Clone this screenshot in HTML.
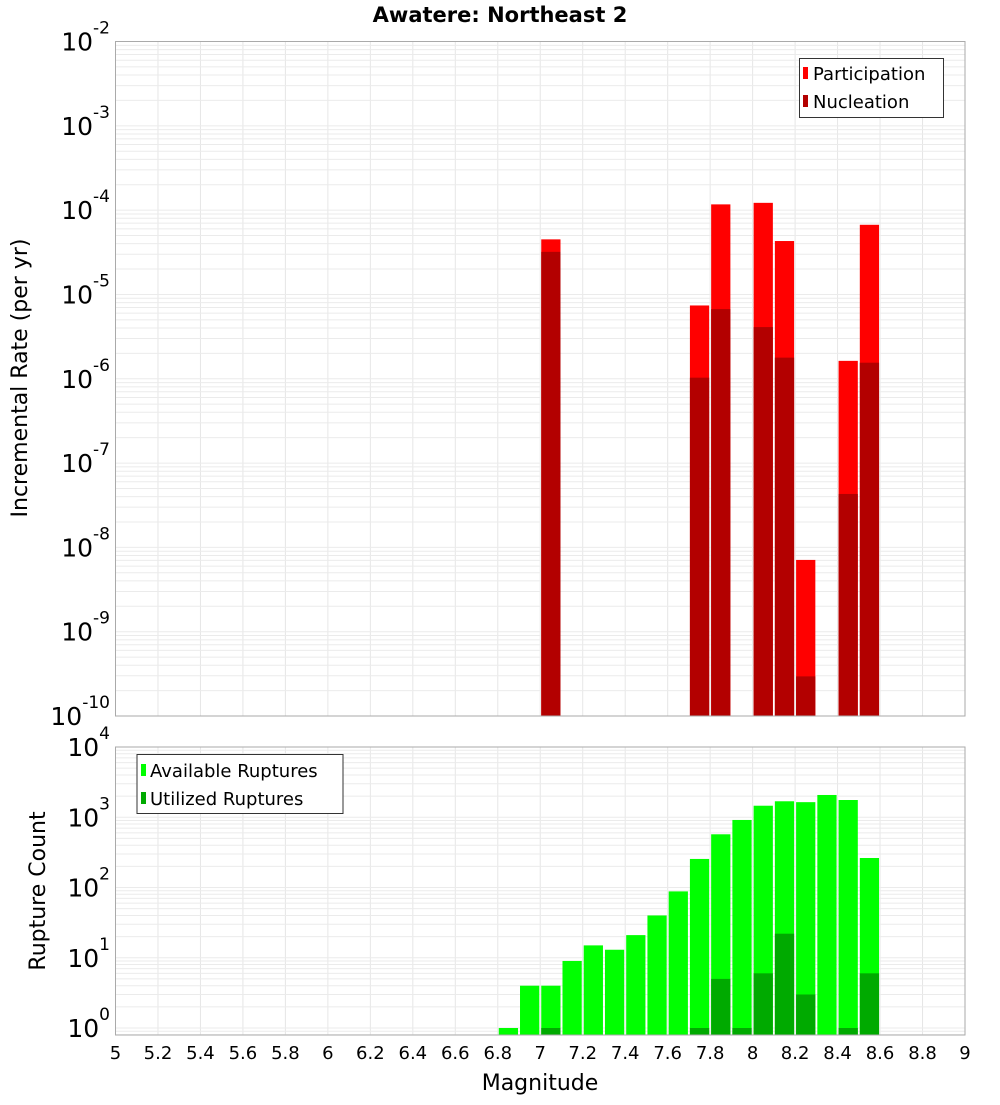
<!DOCTYPE html>
<html><head><meta charset="utf-8"><style>
body{margin:0;background:#fff;font-family:"Liberation Sans","DejaVu Sans",sans-serif}
svg text{font-family:"DejaVu Sans","Liberation Sans",sans-serif}
</style></head><body>
<svg id="chart" width="1000" height="1100" xmlns="http://www.w3.org/2000/svg"></svg>
<script>
const mags=[6.8,6.9,7.0,7.1,7.2,7.3,7.4,7.5,7.6,7.7,7.8,7.9,8.0,8.1,8.2,8.3,8.4,8.5];
const rateMags=[7.0,7.7,7.8,8.0,8.1,8.2,8.4,8.5];
const participation=[4.5e-5,7.4e-6,1.17e-4,1.22e-4,4.3e-5,7.1e-9,1.63e-6,6.7e-5];
const nucleation=[3.2e-5,1.03e-6,6.7e-6,4.1e-6,1.78e-6,2.95e-10,4.3e-8,1.55e-6];
const available=[1,4,4,9,15,13,21,40,88,255,572,915,1459,1688,1640,2075,1760,263];
const utilized=[0,0,1,0,0,0,0,0,0,1,5,1,6,22,3,0,1,6];
const xTicks=[5,5.2,5.4,5.6,5.8,6,6.2,6.4,6.6,6.8,7,7.2,7.4,7.6,7.8,8,8.2,8.4,8.6,8.8,9];
const topDecades=[-2,-3,-4,-5,-6,-7,-8,-9,-10];
const botDecades=[4,3,2,1,0];

const svg=document.getElementById('chart');
const NS='http://www.w3.org/2000/svg';
function mk(tag,attrs,parent){const e=document.createElementNS(NS,tag);for(const k in attrs)e.setAttribute(k,attrs[k]);(parent||svg).appendChild(e);return e;}
const L=115.5,R=965;
const x=m=>L+(m-5)/4*(R-L);
const T1=41.5,B1=716;
const yTop=v=>T1+(-2-Math.log10(v))*(B1-T1)/8;
const T2=747,Z2=1028,B2=1035;
const yBot=v=>Z2-Math.log10(v)*(Z2-T2)/4;

function grid(top,bot,decLo,decHi,yf){
  const g=mk('g',{});
  
  
  for(const t of xTicks){mk('line',{x1:x(t),x2:x(t),y1:top,y2:bot,stroke:'#e6e6e6','stroke-width':1},g);}
  for(let d=decLo;d<decHi;d++){for(let k=1;k<10;k++){const yy=yf(k*Math.pow(10,d));if(yy>=top&&yy<=bot)mk('line',{x1:L,x2:R,y1:yy,y2:yy,stroke:'#ebebeb','stroke-width':1},g);}}
  const yy=yf(Math.pow(10,decHi));mk('line',{x1:L,x2:R,y1:yy,y2:yy,stroke:'#ebebeb'},g);
}
grid(T1,B1,-10,-2,yTop);
grid(T2,B2,-1,4,yBot);

// top bars
rateMags.forEach((m,i)=>{
  const x0=x(m)+1,w=x(m+0.1)-x(m)-2;
  const p=mk('rect',{x:x0,y:yTop(participation[i]),width:w,height:B1-yTop(participation[i]),fill:'#ff0000'});
  
  
  const n=mk('rect',{x:x0,y:yTop(nucleation[i]),width:w,height:B1-yTop(nucleation[i]),fill:'#b30000'});
  
  
});
// bottom bars
mags.forEach((m,i)=>{
  const x0=x(m)+1,w=x(m+0.1)-x(m)-2;
  const a=mk('rect',{x:x0,y:yBot(available[i]),width:w,height:B2-yBot(available[i]),fill:'#00ff00'});
  
  
  if(utilized[i]>0){
    const u=mk('rect',{x:x0,y:yBot(utilized[i]),width:w,height:B2-yBot(utilized[i]),fill:'#00aa00'});
    
    
  }
});
// frames
const f1=mk('rect',{x:L,y:T1,width:R-L,height:B1-T1,fill:'none',stroke:'#aaa'});


const f2=mk('rect',{x:L,y:T2,width:R-L,height:B2-T2,fill:'none',stroke:'#aaa'});



function ylab(d,yy,name){
  const t=mk('text',{x:110,y:yy+9,'text-anchor':'end','font-size':25,fill:'#000'});
  
  
  const a=document.createElementNS(NS,'tspan');a.textContent='10';t.appendChild(a);
  const b=document.createElementNS(NS,'tspan');b.setAttribute('dy','-17');b.setAttribute('font-size','17');b.textContent=String(d);t.appendChild(b);
}
topDecades.forEach(d=>ylab(d,yTop(Math.pow(10,d)),'top-y-tick-label'));
botDecades.forEach(d=>ylab(d,yBot(Math.pow(10,d)),'bottom-y-tick-label'));
xTicks.forEach(t=>{
  const e=mk('text',{x:x(t),y:1059,'text-anchor':'middle','font-size':18,fill:'#000'});
  e.textContent=String(t);
  
  
});
</script>
<svg style="position:absolute;left:0;top:0" width="1000" height="1100" xmlns="http://www.w3.org/2000/svg">
<text x="500" y="22" text-anchor="middle" font-size="21" font-weight="bold" font-family="DejaVu Sans,Liberation Sans,sans-serif">Awatere: Northeast 2</text>
<text transform="translate(27,378) rotate(-90)" text-anchor="middle" font-size="22" font-family="DejaVu Sans,Liberation Sans,sans-serif">Incremental Rate (per yr)</text>
<text transform="translate(45,891) rotate(-90)" text-anchor="middle" font-size="22" font-family="DejaVu Sans,Liberation Sans,sans-serif">Rupture Count</text>
<text x="540" y="1090" text-anchor="middle" font-size="22" font-family="DejaVu Sans,Liberation Sans,sans-serif">Magnitude</text>
<g font-family="DejaVu Sans,Liberation Sans,sans-serif" font-size="18">
<rect x="799.5" y="58.5" width="144" height="59" fill="#fff" stroke="#333"/>
<rect x="803" y="67" width="5" height="12" fill="#ff0000"/>
<text x="813" y="80">Participation</text>
<rect x="803" y="95" width="5" height="12" fill="#b30000"/>
<text x="813" y="108">Nucleation</text>
</g>
<g font-family="DejaVu Sans,Liberation Sans,sans-serif" font-size="18">
<rect x="137" y="754.5" width="206" height="59" fill="#fff" stroke="#333"/>
<rect x="141" y="764" width="5" height="12" fill="#00ff00"/>
<text x="150" y="777">Available Ruptures</text>
<rect x="141" y="792" width="5" height="12" fill="#00aa00"/>
<text x="150" y="805">Utilized Ruptures</text>
</g>
</svg>
</body></html>
